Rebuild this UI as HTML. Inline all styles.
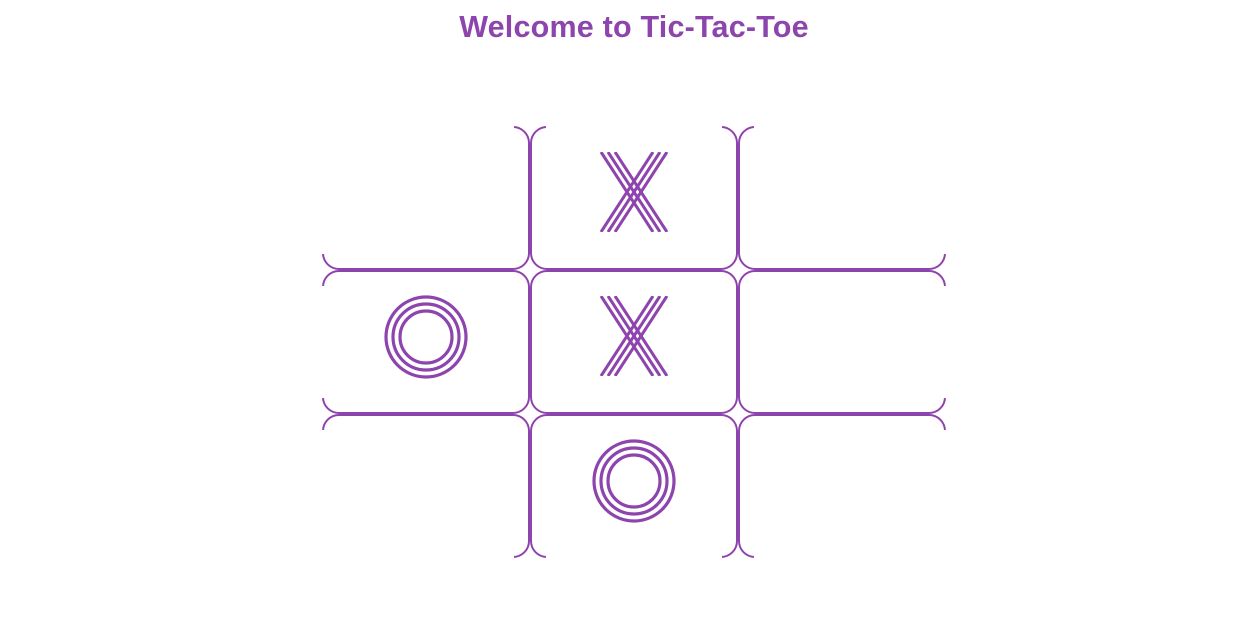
<!DOCTYPE html>
<html><head><meta charset="utf-8"><style>
body{margin:0;width:1256px;height:620px;background:#fff;overflow:hidden;font-family:"Liberation Sans",sans-serif}
h1{margin:0;position:absolute;top:10px;left:6px;width:1256px;text-align:center;font-size:30.5px;font-weight:bold;color:#8e44ad;letter-spacing:0.2px}
svg{position:absolute;left:0;top:0}
</style></head><body>
<h1>Welcome to Tic-Tac-Toe</h1>
<svg id="s" width="1256" height="620"></svg>
<script>
const board = ["", "X", "", "O", "X", "", "", "O", ""];
const NS="http://www.w3.org/2000/svg", s=document.getElementById('s');
const C="#8e44ad", X0=322, Y0=126, W=208, H=144;
function mk(t,a,p){const e=document.createElementNS(NS,t);for(const k in a)e.setAttribute(k,a[k]);(p||s).appendChild(e);return e;}
board.forEach((v,i)=>{
  const c=i%3,r=Math.floor(i/3),x=X0+c*W,y=Y0+r*H;
  const g=mk('g',{});
  
  
  mk('rect',{x:x+1,y:y+1,width:W-2,height:H-2,rx:16,fill:'#fff',stroke:C,'stroke-width':2},g);
  if(r===0) mk('rect',{x:x+16,y:y-1,width:W-32,height:4,fill:'#fff'},g);
  if(r===2) mk('rect',{x:x+16,y:y+H-3,width:W-32,height:4,fill:'#fff'},g);
  if(c===0) mk('rect',{x:x-1,y:y+16,width:4,height:H-32,fill:'#fff'},g);
  if(c===2) mk('rect',{x:x+W-3,y:y+16,width:4,height:H-32,fill:'#fff'},g);
  if(r===0&&c===0) mk('rect',{x:x-1,y:y-1,width:18,height:18,fill:'#fff'},g);
  if(r===0&&c===2) mk('rect',{x:x+W-17,y:y-1,width:18,height:18,fill:'#fff'},g);
  if(r===2&&c===0) mk('rect',{x:x-1,y:y+H-17,width:18,height:18,fill:'#fff'},g);
  if(r===2&&c===2) mk('rect',{x:x+W-17,y:y+H-17,width:18,height:18,fill:'#fff'},g);
  const cx=x+W/2, cy=y+H/2-6;
  if(v==='O'){
    [40,33,26].forEach(rr=>mk('circle',{cx:cx,cy:cy+1,r:rr,fill:'none',stroke:C,'stroke-width':3.2},g));
  } else if(v==='X'){
    [-7,0,7].forEach(o=>{
      mk('line',{x1:cx-26+o,y1:cy-40,x2:cx+26+o,y2:cy+40,stroke:C,'stroke-width':3},g);
      mk('line',{x1:cx+26+o,y1:cy-40,x2:cx-26+o,y2:cy+40,stroke:C,'stroke-width':3},g);
    });
    mk('rect',{x:cx-36,y:cy-43,width:72,height:3,fill:'#fff'},g);
    mk('rect',{x:cx-36,y:cy+40,width:72,height:3,fill:'#fff'},g);
  }
});
</script>
</body></html>
